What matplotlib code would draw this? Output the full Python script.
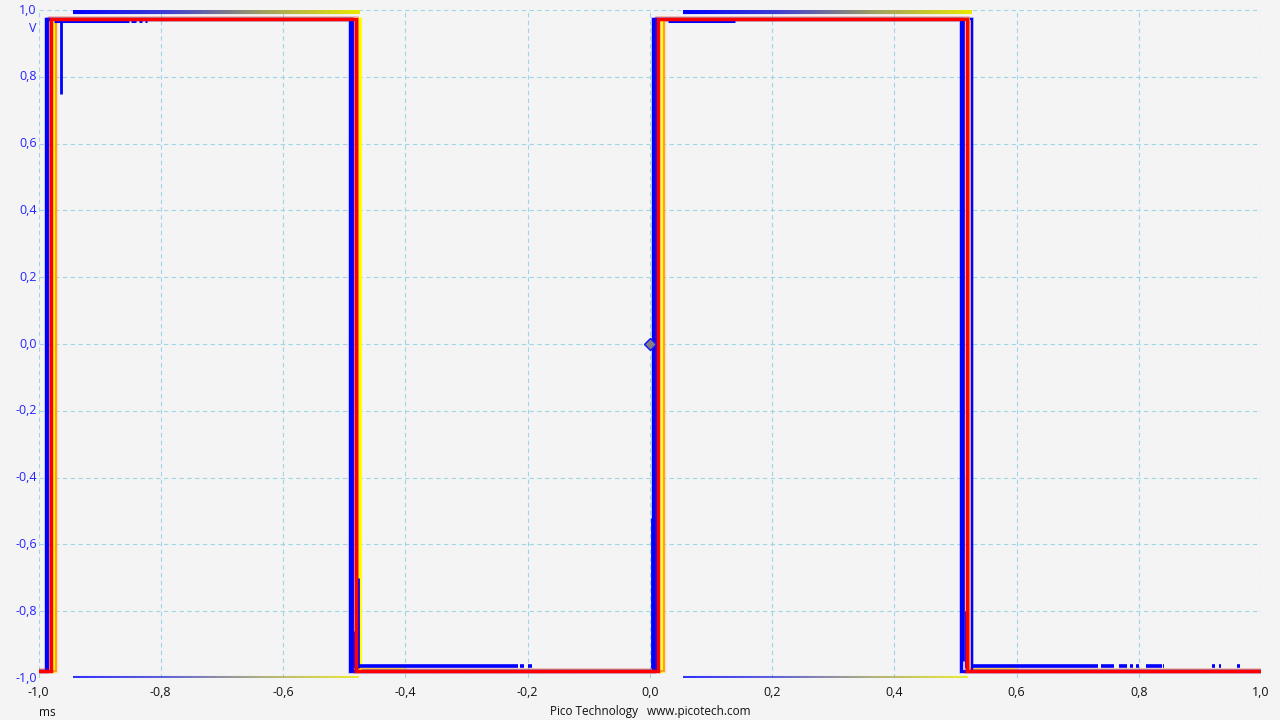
import matplotlib
matplotlib.use("Agg")
import matplotlib.pyplot as plt
import numpy as np
from matplotlib.collections import LineCollection
from matplotlib.colors import LinearSegmentedColormap

# edge times (ms) for each persistence layer: rise, fall, rise, fall
blue_edges = [-0.988, -0.490, 0.006, 0.509]
yellow_edges = [-0.975, -0.474, 0.020, 0.521]
orange_edges = [-0.972, -0.478, 0.024, 0.523]
red_edges = [-0.980, -0.480, 0.014, 0.519]
blue2_edges = [-0.984, -0.486, 0.010, 0.527]

high_level = 0.972
low_level = -0.978

# clipped top/bottom persistence bands (blue -> yellow fade)
band_top_x = [(-0.944, -0.474), (0.055, 0.528)]
band_top_y = 0.994
band_bot_x = [(-0.944, -0.476), (0.055, 0.520)]
band_bot_y = -0.996

# blue fragments just above the red low level / below the red high level
low_frag_y = -0.964
low_frags = [(-0.478, -0.215), (-0.212, -0.205), (-0.200, -0.192),
             (0.525, 0.734), (0.738, 0.760), (0.768, 0.780), (0.785, 0.790),
             (0.795, 0.800), (0.812, 0.838), (0.840, 0.842), (0.920, 0.925),
             (0.932, 0.935), (0.960, 0.966)]
high_frag_y = 0.966
high_frags = [(-0.975, -0.852), (-0.848, -0.840), (-0.835, -0.830), (-0.826, -0.822),
              (0.030, 0.140)]

# vertical blue spikes (x, y0, y1)
spike_x = [-0.963, -0.490, -0.478, -0.486, 0.003, 0.010, 0.513, 0.517]
spike_y0 = [0.75, -0.42, -0.70, -0.86, -0.97, 0.24, -0.95, -0.80]
spike_y1 = [0.97, 0.97, -0.97, -0.97, -0.52, 0.97, 0.97, -0.97]

x_ticks = [-1.0, -0.8, -0.6, -0.4, -0.2, 0.0, 0.2, 0.4, 0.6, 0.8, 1.0]
y_ticks = [-1.0, -0.8, -0.6, -0.4, -0.2, 0.0, 0.2, 0.4, 0.6, 0.8, 1.0]

BG = "#f4f4f4"
GRID = "#9fd6e6"
BLUE = "#0000ff"
YELLOW = "#ffff00"
ORANGE = "#ff9a1a"
RED = "#ff0000"
LABEL_BLUE = "#2424ff"


def square(edges):
    xs = [-1.0]
    ys = [low_level]
    level = low_level
    for e in edges:
        xs += [e, e]
        new = high_level if level == low_level else low_level
        ys += [level, new]
        level = new
    xs.append(1.0)
    ys.append(level)
    return xs, ys


def fmt(v):
    return f"{v:.1f}".replace(".", ",")


plt.rcParams["font.family"] = ["Open Sans", "DejaVu Sans"]
fig = plt.figure(figsize=(12.8, 7.2), dpi=100, facecolor=BG)
ax = fig.add_axes([38.5 / 1280, 42 / 720, 1222.5 / 1280, 668 / 720])
ax.set_facecolor(BG)
ax.set_xlim(-1, 1)
ax.set_ylim(-1, 1)
for s in ax.spines.values():
    s.set_visible(False)

for v in x_ticks:
    ax.axvline(v, color=GRID, lw=0.8, ls=(0, (4, 3)), zorder=0)
for v in y_ticks:
    ax.axhline(v, color=GRID, lw=0.8, ls=(0, (4, 3)), zorder=0)

fade = LinearSegmentedColormap.from_list("fade", ["#0000ff", "#4040d0", "#a0a060", "#e8e800"])


def gradient_band(x0, x1, y, lw, alpha=1.0):
    xs = np.linspace(x0, x1, 120)
    segs = [[(xs[i], y), (xs[i + 1], y)] for i in range(len(xs) - 1)]
    cols = fade(np.linspace(0, 1, len(segs)))
    lc = LineCollection(segs, colors=cols, linewidths=lw, alpha=alpha, zorder=2, capstyle="butt")
    ax.add_collection(lc)


for x0, x1 in band_top_x:
    gradient_band(x0, x1, band_top_y, 3.0)
for x0, x1 in band_bot_x:
    gradient_band(x0, x1, band_bot_y, 1.5, 0.8)

# yellow glow right after the falling edges
for e in [red_edges[1], red_edges[3]]:
    ax.plot([e + 0.005, e + 0.08], [-0.972, -0.972], color=YELLOW, lw=3.0, alpha=0.6,
            solid_capstyle="butt", zorder=3)

for edges, col, lw in [(blue_edges, BLUE, 2.2), (blue2_edges, BLUE, 1.6),
                       (yellow_edges, YELLOW, 2.0), (orange_edges, ORANGE, 1.3)]:
    xs, ys = square(edges)
    ax.plot(xs, ys, color=col, lw=lw + 1.2, alpha=0.22, zorder=3, solid_joinstyle="miter")
    ax.plot(xs, ys, color=col, lw=lw, zorder=4, solid_joinstyle="miter")

for x0, x1 in low_frags:
    ax.plot([x0, x1], [low_frag_y, low_frag_y], color=BLUE, lw=2.6, solid_capstyle="butt", zorder=4)
for x0, x1 in high_frags:
    ax.plot([x0, x1], [high_frag_y, high_frag_y], color=BLUE, lw=2.2, solid_capstyle="butt", zorder=4)

for x, y0, y1 in zip(spike_x, spike_y0, spike_y1):
    ax.plot([x, x], [y0, y1], color=BLUE, lw=2.0, solid_capstyle="butt", zorder=4)

xs, ys = square(red_edges)
ax.plot(xs, ys, color=RED, lw=4.0, alpha=0.28, zorder=5, solid_joinstyle="miter")
ax.plot(xs, ys, color=RED, lw=2.2, zorder=6, solid_joinstyle="miter")

ax.plot([0.0], [0.0], marker="D", ms=6.5, mfc="#808080", mec="#1010ff", mew=1.0, zorder=7)

ax.set_xticks([])
ax.set_yticks([])
for v in x_ticks:
    ax.text(v, -1.025, fmt(v), ha="center", va="top", fontsize=9,
            color="#111111", clip_on=False)
for v in y_ticks:
    ax.text(-1.003, v, fmt(v), ha="right", va="center", fontsize=9, color=LABEL_BLUE, clip_on=False)

fig.text(33 / 1280, 1 - 28 / 720, "V", ha="center", va="center", fontsize=9, color=LABEL_BLUE)
fig.text(47 / 1280, 1 - 712 / 720, "ms", ha="center", va="center", fontsize=8.5, color="#111111")
fig.text(650 / 1280, 1 - 712 / 720, "Pico Technology   www.picotech.com", ha="center", va="center",
         fontsize=8.5, color="#111111")

fig.savefig("out.png", dpi=100, facecolor=BG)
